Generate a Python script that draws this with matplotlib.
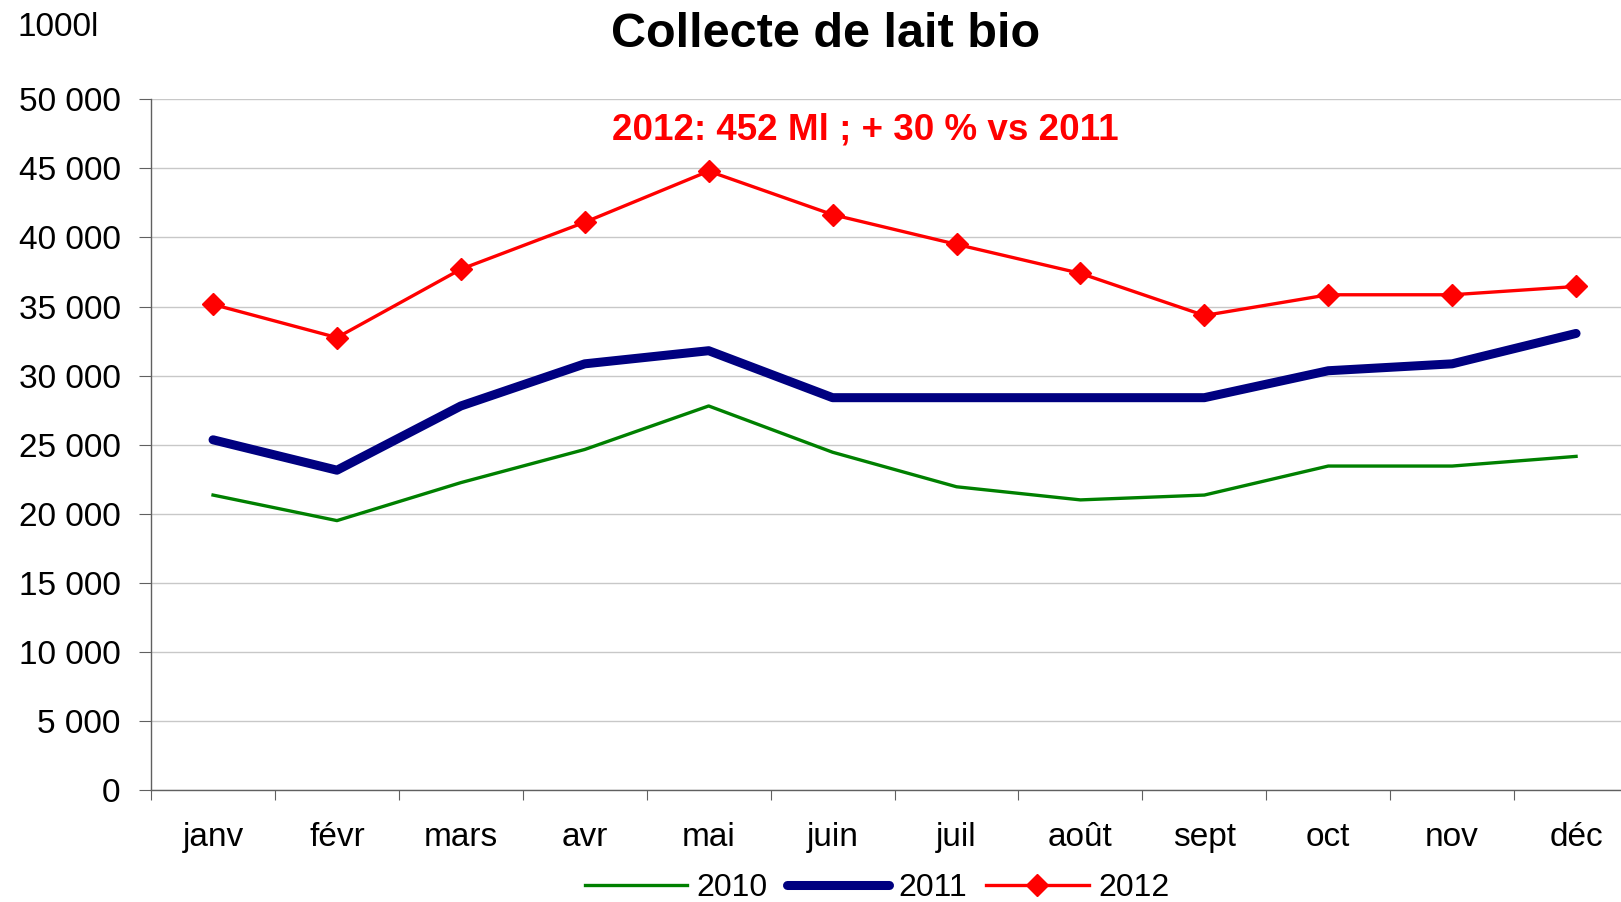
import matplotlib
matplotlib.use('Agg')
import matplotlib.pyplot as plt
import numpy as np

plt.rcParams['font.family'] = ['Liberation Sans', 'DejaVu Sans']

# Données (milliers de litres)
mois = ['janv', 'févr', 'mars', 'avr', 'mai', 'juin', 'juil', 'août', 'sept', 'oct', 'nov', 'déc']
lait_2010 = [21350, 19500, 22250, 24650, 27800, 24450, 21950, 21000, 21350, 23450, 23450, 24150]
lait_2011 = [25350, 23150, 27800, 30850, 31800, 28400, 28400, 28400, 28400, 30350, 30850, 33050]
lait_2012 = [35150, 32750, 37700, 41100, 44800, 41650, 39500, 37400, 34350, 35850, 35850, 36450]
y_ticks = [0, 5000, 10000, 15000, 20000, 25000, 30000, 35000, 40000, 45000, 50000]
y_labels = ['0', '5 000', '10 000', '15 000', '20 000', '25 000', '30 000', '35 000', '40 000', '45 000', '50 000']

fig = plt.figure(figsize=(16.21, 9.02), dpi=100)
ax = fig.add_axes([0.0932, 0.1242, 0.9173, 0.7657])

x = np.arange(len(mois))
ax.plot(x, lait_2010, color='#008000', lw=2.4, label='2010', solid_joinstyle='round')
ax.plot(x, lait_2011, color='#000080', lw=6.5, label='2011',
        solid_capstyle='round', solid_joinstyle='round')
ax.plot(x, lait_2012, color='#ff0000', lw=2.4, marker='D', ms=11, mew=1,
        label='2012', solid_joinstyle='round')

# Axes
ax.set_xlim(-0.5, len(mois) - 0.5)
ax.set_ylim(0, 50000)
ax.set_yticks(y_ticks)
ax.set_yticklabels(y_labels, fontsize=24)
ax.tick_params(axis='y', length=9, pad=13, color='#606060')
ax.yaxis.grid(True, color='#c8c8c8', lw=1)
ax.set_axisbelow(True)

ax.set_xticks(np.arange(-0.5, len(mois), 1.0))
ax.set_xticklabels([])
ax.set_xticks(x, minor=True)
ax.set_xticklabels(mois, minor=True, fontsize=24)
ax.tick_params(axis='x', which='major', length=7, color='#606060')
ax.tick_params(axis='x', which='minor', length=0, pad=23)

for s in ['top', 'right']:
    ax.spines[s].set_visible(False)
for s in ['left', 'bottom']:
    ax.spines[s].set_color('#606060')
    ax.spines[s].set_linewidth(1)

# Textes
fig.text(0.509, 0.948, 'Collecte de lait bio', ha='center', va='baseline',
         fontsize=35, fontweight='bold')
fig.text(0.5337, 0.8448, '2012: 452 Ml ; + 30 % vs 2011', ha='center', va='baseline',
         fontsize=26.5, fontweight='bold', color='#ff0000')
fig.text(0.0111, 0.960, '1000l', ha='left', va='baseline', fontsize=24)

fig.legend(loc='center', bbox_to_anchor=(0.541, 0.015), ncol=3, frameon=False,
           fontsize=23, handlelength=3.2, handletextpad=0.3, columnspacing=0.6,
           borderpad=0)

fig.savefig('out.png', dpi=100)
